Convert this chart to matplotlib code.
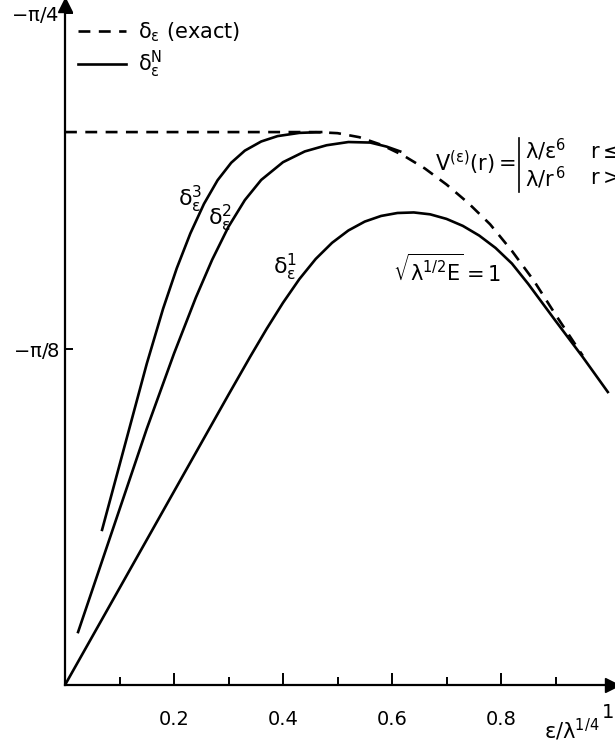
import matplotlib.pyplot as plt
from matplotlib.lines import Line2D

plt.rcParams['font.family'] = 'DejaVu Sans'
plt.rcParams['mathtext.default'] = 'regular'

# phase shifts as -delta / pi, against eps / lambda^(1/4)
exact_x = [0.0, 0.30, 0.46, 0.50, 0.54, 0.58, 0.62, 0.66, 0.70, 0.74, 0.78, 0.82, 0.86, 0.90, 0.95]
exact_y = [0.2057, 0.2057, 0.2057, 0.2053, 0.2038, 0.2010, 0.1971, 0.1922, 0.1862, 0.1793, 0.1714,
           0.1615, 0.1505, 0.1378, 0.1225]

d1_x = [0.0, 0.30, 0.34, 0.37, 0.40, 0.43, 0.46, 0.49, 0.52, 0.55, 0.58, 0.61, 0.64, 0.67,
        0.70, 0.73, 0.76, 0.79, 0.82, 0.85, 0.90, 0.95, 0.996]
d1_y = [0.0, 0.1080, 0.1222, 0.1325, 0.1422, 0.1510, 0.1585, 0.1645, 0.1691, 0.1724, 0.1745,
        0.1756, 0.1758, 0.1751, 0.1734, 0.1708, 0.1672, 0.1626, 0.1568, 0.1492, 0.1355, 0.1220, 0.1090]

d2_x = [0.024, 0.15, 0.20, 0.24, 0.27, 0.30, 0.33, 0.36, 0.40, 0.44, 0.48, 0.52, 0.56, 0.59, 0.615]
d2_y = [0.0197, 0.0953, 0.1233, 0.1441, 0.1582, 0.1705, 0.1804, 0.1879, 0.1945, 0.1985, 0.2008,
        0.2020, 0.2018, 0.2003, 0.1985]

d3_x = [0.068, 0.15, 0.18, 0.205, 0.23, 0.255, 0.28, 0.305, 0.33, 0.36, 0.39, 0.43, 0.47]
d3_y = [0.0577, 0.1195, 0.1400, 0.1550, 0.1680, 0.1790, 0.1878, 0.1943, 0.1988, 0.2022, 0.2042,
        0.2054, 0.2057]

xticks = [0.2, 0.4, 0.6, 0.8]
xminor = [0.1, 0.3, 0.5, 0.7, 0.9]
yticks = [0.125, 0.25]
ylabels = [r'$-\pi/8$', r'$-\pi/4$']

W, H = 615, 744


def fx(px):
    return px / W


def fy(py):
    return 1 - py / H


fig = plt.figure(figsize=(W / 100, H / 100), dpi=100)
ax = fig.add_axes([fx(65), fy(685), (612 - 65) / W, (685 - 5) / H])
xmax = (612 - 65) / 545
ymax = (685 - 5) / 336 * 0.125
ax.set_xlim(0, xmax)
ax.set_ylim(0, ymax)

lw = 1.9
l_ex, = ax.plot(exact_x, exact_y, color='k', lw=lw, ls=(0, (4.5, 3.2)))
l1, = ax.plot(d1_x, d1_y, color='k', lw=lw, solid_joinstyle='round')
ax.plot(d2_x, d2_y, color='k', lw=lw, solid_joinstyle='round')
ax.plot(d3_x, d3_y, color='k', lw=lw, solid_joinstyle='round')

# axes with arrow heads
for s in ['top', 'right']:
    ax.spines[s].set_visible(False)
for s in ['left', 'bottom']:
    ax.spines[s].set_linewidth(1.6)
ax.plot(xmax, 0, marker='>', ms=10, color='k', clip_on=False)
ax.plot(0, ymax, marker='^', ms=10, color='k', clip_on=False)

ax.set_xticks(xticks)
ax.set_xticklabels([str(t) for t in xticks])
ax.set_xticks(xminor, minor=True)
ax.set_yticks(yticks)
ax.set_yticklabels(ylabels)
ax.tick_params(axis='x', which='major', direction='in', length=9, width=1.4, pad=18, labelsize=14)
ax.tick_params(axis='x', which='minor', direction='in', length=6, width=1.4)
ax.tick_params(axis='y', direction='in', length=6, width=1.4, pad=4, labelsize=14)

fig.text(fx(608), fy(712), '1', fontsize=14, ha='center', va='center')
fig.text(fx(544), fy(743), r'$\varepsilon/\lambda^{1/4}$', fontsize=15, ha='left', va='bottom')

ax.legend(handles=[l_ex, l1], labels=[r'$\delta_\varepsilon$ (exact)', r'$\delta_\varepsilon^N$'],
          loc='upper left', bbox_to_anchor=(fx(78), fy(20)), bbox_transform=fig.transFigure,
          frameon=False, handlelength=2.3, handletextpad=0.6, labelspacing=0.25,
          fontsize=15, borderpad=0, borderaxespad=0)

# curve labels
fig.text(fx(190), fy(199), r'$\delta_\varepsilon^3$', fontsize=16, ha='center', va='center')
fig.text(fx(220), fy(218), r'$\delta_\varepsilon^2$', fontsize=16, ha='center', va='center')
fig.text(fx(285), fy(267), r'$\delta_\varepsilon^1$', fontsize=16, ha='center', va='center')
fig.text(fx(393), fy(270), r'$\sqrt{\lambda^{1/2}E}=1$', fontsize=15, ha='left', va='center')

# potential definition, cut at the right edge
fig.text(fx(516), fy(163), r'$V^{(\epsilon)}(r)=$', fontsize=15, ha='right', va='center')
fig.add_artist(Line2D([fx(519), fx(519)], [fy(138), fy(192)], color='k', lw=1.2,
                      transform=fig.transFigure))
fig.text(fx(525), fy(150), r'$\lambda/\varepsilon^6$', fontsize=15, ha='left', va='center')
fig.text(fx(525), fy(178), r'$\lambda/r^{\,6}$', fontsize=15, ha='left', va='center')
fig.text(fx(590), fy(152), r'$r\leq$', fontsize=15, ha='left', va='center')
fig.text(fx(590), fy(178), r'$r>$', fontsize=15, ha='left', va='center')

fig.savefig('out.png', dpi=100, facecolor='white')
